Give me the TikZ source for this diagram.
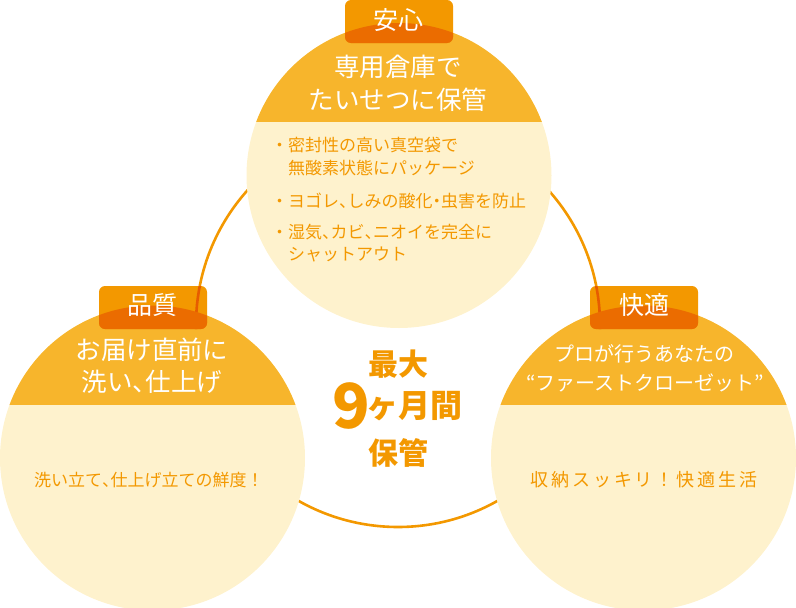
\documentclass[tikz,border=0pt]{standalone}
\usepackage{fontspec}
\setmainfont{Noto Sans CJK JP}
\newcommand\hw[1]{{\addfontfeature{RawFeature=+halt}#1}}
\definecolor{tagc}{HTML}{F39800}
\definecolor{bandc}{HTML}{F7B52C}
\definecolor{bodyc}{HTML}{FEF2CD}
\definecolor{overc}{HTML}{EB6C00}
\definecolor{ringdk}{HTML}{E65C00}
\definecolor{txtc}{HTML}{F39800}
\tikzset{
  ringline/.style={draw=tagc, line width=2.6pt},
  ringdark/.style={draw=ringdk, line width=2.6pt},
  tagbox/.style={fill=tagc, rounded corners=6pt},
  tagtext/.style={text=white, inner sep=0pt, font=\fontsize{25}{30}\selectfont},
  hdtext/.style={text=white, inner sep=0pt, font=\fontsize{25.5}{30}\selectfont},
  hdsmall/.style={text=white, inner sep=0pt, font=\fontsize{20}{24}\selectfont},
  bodytext/.style={text=txtc, inner sep=0pt, font=\fontsize{17}{20}\selectfont},
  bigtext/.style={text=txtc, inner sep=0pt, font=\fontsize{30}{34}\selectfont\bfseries},
}
\begin{document}
\begin{tikzpicture}[x=1pt,y=-1pt]
\useasboundingbox (0,0) rectangle (796,608);
% ring
\draw[ringline] (398,325) circle (202pt);
% top circle
\fill[bodyc] (399,175.5) circle (152.5pt);
\begin{scope}
  \clip (399,175.5) circle (152.5pt);
  \fill[bandc] (240,0) rectangle (560,122);
\end{scope}
% left circle
\fill[bodyc] (152.5,458) circle (152.5pt);
\begin{scope}
  \clip (152.5,458) circle (152.5pt);
  \fill[bandc] (-10,300) rectangle (310,405);
\end{scope}
% right circle
\fill[bodyc] (643.5,458) circle (152.5pt);
\begin{scope}
  \clip (643.5,458) circle (152.5pt);
  \fill[bandc] (486,300) rectangle (800,405);
\end{scope}
% tags
\fill[tagbox] (345,0) rectangle (453,43);
\begin{scope}
  \clip[rounded corners=6pt] (345,0) rectangle (453,43);
  \clip (399,175.5) circle (152.5pt);
  \fill[overc] (340,-5) rectangle (460,50);
\end{scope}
\fill[tagbox] (99,286) rectangle (207,329);
\begin{scope}
  \clip[rounded corners=6pt] (99,286) rectangle (207,329);
  \draw[ringdark] (398,325) circle (202pt);
  \clip (152.5,458) circle (152.5pt);
  \fill[overc] (90,280) rectangle (215,335);
\end{scope}
\fill[tagbox] (590,286) rectangle (698,329);
\begin{scope}
  \clip[rounded corners=6pt] (590,286) rectangle (698,329);
  \draw[ringdark] (398,325) circle (202pt);
  \clip (643.5,458) circle (152.5pt);
  \fill[overc] (585,280) rectangle (705,335);
\end{scope}
% tag texts
\node[tagtext] (tA) at (398,20.5) {安心};
\node[tagtext] (tB) at (152,305.5) {品質};
\node[tagtext] (tC) at (644,305.5) {快適};
% headers
\node[hdtext] (hA1) at (398,67) {専用倉庫で};
\node[hdtext] (hA2) at (398,99.5) {たいせつに保管};
\node[hdtext] (hB1) at (152,350) {お届け直前に};
\node[hdtext] (hB2) at (152,382) {洗い\hw{、}仕上げ};
\node[hdsmall] (hC1) at (644,354) {プロが行うあなたの};
\node[hdsmall] (hC2) at (645,383) {“ファーストクローゼット”};
% top body
\node[bodytext, anchor=west] (bA1) at (271,145) {・密封性の高い真空袋で};
\node[bodytext, anchor=west] (bA2) at (288,168.5) {無酸素状態にパッケージ};
\node[bodytext, anchor=west] (bA3) at (271,200.5) {・ヨゴレ\hw{、}しみの酸化\hw{・}虫害を防止};
\node[bodytext, anchor=west] (bA4) at (271,232) {・湿気\hw{、}カビ\hw{、}ニオイを完全に};
\node[bodytext, anchor=west] (bA5) at (288,254) {シャットアウト};
% left / right body
\node[bodytext] (bB) at (149,480) {洗い立て\hw{、}仕上げ立ての鮮度！};
\node[bodytext, font=\fontsize{18}{22}\selectfont\addfontfeature{LetterSpace=16}] (bC) at (644,480) {収納スッキリ！快適生活};
% centre
\node[bigtext] (m1) at (398,364) {最大};
\node[bigtext, font=\fontsize{62}{64}\selectfont\bfseries, anchor=base] (m9) at (351,428) {9};
\node[bigtext, font=\fontsize{32}{36}\selectfont\bfseries] (m2) at (414,406.5) {ヶ月間};
\node[bigtext] (m3) at (398,453) {保管};
\end{tikzpicture}
\end{document}
